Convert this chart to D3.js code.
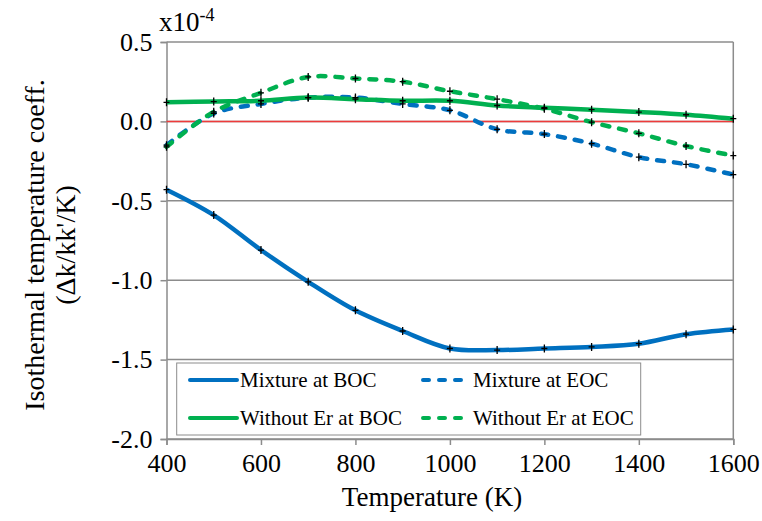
<!DOCTYPE html>
<html><head><meta charset="utf-8">
<script src="https://cdn.jsdelivr.net/npm/d3@7"></script>
<style>body{margin:0;background:#fff}</style>
</head><body>
<svg id="c" width="762" height="521"></svg>
<script>
const temps = [400,500,600,700,800,900,1000,1100,1200,1300,1400,1500,1600];
const mixBOC = [-0.43,-0.59,-0.81,-1.01,-1.19,-1.32,-1.43,-1.44,-1.43,-1.42,-1.40,-1.34,-1.31];
const mixEOC = [-0.15,0.05,0.11,0.15,0.15,0.11,0.07,-0.05,-0.08,-0.14,-0.225,-0.27,-0.335];
const woBOC = [0.12,0.125,0.13,0.15,0.14,0.13,0.13,0.10,0.086,0.074,0.059,0.042,0.017];
const woEOC = [-0.16,0.06,0.18,0.28,0.27,0.25,0.19,0.14,0.08,-0.005,-0.075,-0.155,-0.215];
const seriesNames = ["Mixture at BOC","Mixture at EOC","Without Er at BOC","Without Er at EOC"];
const xTicks = [400,600,800,1000,1200,1400,1600];
const yTicks = [0.5,0.0,-0.5,-1.0,-1.5,-2.0];

const series = [
  {name: seriesNames[0], values: mixBOC, color: "#0070C0", dash: null},
  {name: seriesNames[1], values: mixEOC, color: "#0070C0", dash: "7,10"},
  {name: seriesNames[2], values: woBOC, color: "#00B050", dash: null},
  {name: seriesNames[3], values: woEOC, color: "#00B050", dash: "7,10"}
];

const svg = d3.select("#c");
const L = 166.5, R = 733.3, T = 42, B = 439;
const x = d3.scaleLinear().domain([400,1600]).range([L,R]);
const y = d3.scaleLinear().domain([-2,0.5]).range([B,T]);
const grid = "#8c8c8c";
const setFont = (sel, size) => sel
  .style("font-family", '"Liberation Serif"', "important")
  .style("font-size", size + "px", "important");

svg.append("g").selectAll("line").data(yTicks).join("line")
  .attr("x1", L).attr("x2", R).attr("y1", d=>y(d)).attr("y2", d=>y(d))
  .attr("stroke", grid).attr("stroke-width", 1.5);
svg.append("line").attr("x1", R).attr("x2", R).attr("y1", T).attr("y2", B)
  .attr("stroke", grid).attr("stroke-width", 1.5);

const yAxis = d3.axisLeft(y).tickValues(yTicks).tickSize(6).tickPadding(8);
const gy = svg.append("g").attr("transform", `translate(${L},0)`).call(yAxis);
gy.attr("font-family", null).attr("font-size", null);
gy.select(".domain").attr("stroke", grid).attr("stroke-width", 1.5);
gy.selectAll(".tick line").attr("stroke", grid).attr("stroke-width", 1.5);
setFont(gy.selectAll("text"), 26).attr("fill", "#000")
  .text(d => d3.format(".1f")(d).replace("−","-"));

const xAxis = d3.axisBottom(x).tickValues(xTicks).tickSize(6).tickPadding(9).tickFormat(d3.format("d"));
const gx = svg.append("g").attr("transform", `translate(0,${B})`).call(xAxis);
gx.attr("font-family", null).attr("font-size", null);
gx.select(".domain").attr("stroke", grid).attr("stroke-width", 1.5);
gx.selectAll(".tick line").attr("stroke", grid).attr("stroke-width", 1.5);
setFont(gx.selectAll("text"), 26).attr("fill", "#000");

svg.append("line").attr("x1", L).attr("x2", R).attr("y1", y(0)).attr("y2", y(0))
  .attr("stroke", "#EE3B3B").attr("stroke-width", 1.5);

const line = d3.line().x((d,i)=>x(temps[i])).y(d=>y(d)).curve(d3.curveCatmullRom.alpha(0.5));
series.forEach(s => {
  svg.append("path").attr("d", line(s.values)).attr("fill","none")
    .attr("stroke", s.color).attr("stroke-width", 4.5)
    .attr("stroke-linecap", s.dash ? "round" : "butt")
    .attr("stroke-linejoin","round")
    .attr("stroke-dasharray", s.dash);
});
series.forEach(s => {
  const g = svg.append("g");
  s.values.forEach((v,i) => {
    const cx = x(temps[i]), cy = y(v);
    g.append("path").attr("d", `M${cx-3},${cy}H${cx+3}M${cx},${cy-4}V${cy+4}`)
      .attr("stroke","#000").attr("stroke-width",1.3).attr("fill","none");
  });
});

const lg = svg.append("g");
lg.append("rect").attr("x",176.7).attr("y",363).attr("width",464).attr("height",72)
  .attr("fill","#fff").attr("stroke", grid).attr("stroke-width",1);
const pos = [[190,380],[421,380],[190,418],[421,418]];
series.forEach((s,i) => {
  const [lx,ly] = pos[i];
  lg.append("line").attr("x1", lx+(s.dash?2:0)).attr("x2", lx+(s.dash?44:47)).attr("y1", ly).attr("y2", ly)
    .attr("stroke", s.color).attr("stroke-width", 4)
    .attr("stroke-linecap", "round")
    .attr("stroke-dasharray", s.dash ? "6,10" : null);
  setFont(lg.append("text").attr("x", lx + (s.dash?52:50)).attr("y", ly).attr("dy","0.35em"), 21)
    .attr("fill","#000").text(s.name);
});

setFont(svg.append("text").attr("x", 432).attr("y", 506).attr("text-anchor","middle"), 27)
  .attr("fill","#000").text("Temperature (K)");
const yt = setFont(svg.append("text").attr("transform","translate(44,245) rotate(-90)")
  .attr("text-anchor","middle"), 28).attr("fill","#000");
yt.append("tspan").attr("x",0).attr("y",0).text("Isothermal temperature coeff.");
yt.append("tspan").attr("x",0).attr("y",31).text("(Δk/kk'/K)");

const m = setFont(svg.append("text").attr("x",159).attr("y",31), 27).attr("fill","#000");
m.append("tspan").text("x10");
m.append("tspan").style("font-size","18px","important").attr("dy",-10).text("-4");
</script>
</body></html>
